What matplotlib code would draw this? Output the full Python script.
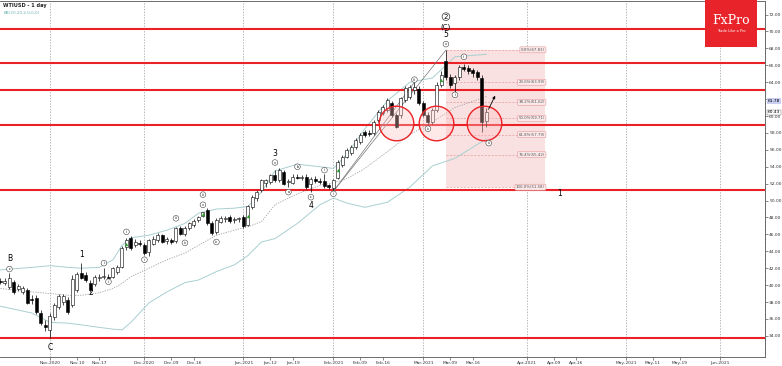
import numpy as np
import pandas as pd
import matplotlib
matplotlib.use("Agg")
import matplotlib.pyplot as plt
from matplotlib.patches import Rectangle

# daily calendar the broker uses: weekdays, no bars on Dec 25 / Jan 1
days = pd.bdate_range("2020-10-16", "2021-06-15")
days = days[~days.isin(pd.to_datetime(["2020-12-25", "2021-01-01"]))]
origin = days.get_loc(pd.Timestamp("2020-11-02"))

# candles (first bar = 2020-10-16)
opens = [40.5, 40.3, 39.8, 40.4, 39.6, 39.2, 39.4, 38.3, 38.5, 36.7, 35.3,
         34.7, 36.2, 37.4, 38.0, 38.2, 37.6, 39.4, 41.4, 41.2, 40.3, 40.1,
         40.8, 41.0, 41.0, 41.0, 41.5, 42.1, 44.5, 45.6, 44.8, 45.0, 44.7,
         43.9, 44.9, 45.3, 45.9, 45.2, 45.3, 45.2, 46.7, 46.0, 46.7, 47.1,
         47.7, 48.2, 48.9, 47.3, 46.3, 47.5, 47.8, 48.0, 47.7, 47.8, 48.0,
         47.1, 49.2, 50.3, 51.2, 52.1, 52.2, 53.0, 52.4, 53.4, 52.2, 52.1,
         52.8, 52.7, 52.8, 51.9, 52.5, 52.3, 52.3, 51.8, 51.5, 52.7, 54.2,
         55.2, 55.6, 56.3, 56.9, 58.1, 58.0, 58.0, 59.5, 60.4, 60.7, 61.5,
         60.1, 60.1, 61.9, 62.3, 63.1, 63.2, 61.5, 60.1, 59.3, 60.7, 63.7,
         66.5, 64.6, 63.9, 64.6, 65.8, 65.7, 65.4, 65.2, 64.5, 59.4]
highs = [40.9, 40.8, 41.4, 40.6, 40.1, 39.9, 39.7, 38.8, 38.8, 37.0, 35.9,
         36.7, 37.9, 39.0, 39.0, 38.6, 41.2, 41.6, 42.6, 41.5, 40.6, 41.2,
         41.3, 42.0, 41.3, 42.2, 42.4, 44.6, 45.6, 45.8, 45.4, 45.3, 45.0,
         45.4, 45.8, 46.2, 46.1, 45.7, 45.6, 46.9, 47.0, 47.0, 47.5, 47.8,
         48.2, 48.7, 49.1, 47.6, 47.9, 48.2, 48.2, 48.3, 48.0, 48.1, 48.3,
         49.5, 50.6, 51.2, 52.6, 52.6, 53.2, 53.6, 53.8, 53.6, 52.6, 53.1,
         53.2, 53.0, 53.1, 52.8, 52.9, 52.7, 53.2, 52.0, 52.5, 54.8, 55.4,
         56.2, 56.6, 57.4, 58.0, 58.4, 58.3, 59.5, 60.7, 61.3, 62.1, 61.8,
         60.4, 62.3, 63.5, 63.7, 64.0, 63.6, 61.8, 60.5, 61.0, 64.0, 65.3,
         67.8, 65.0, 64.8, 66.0, 66.2, 66.0, 65.7, 65.4, 64.8, 60.9]
lows = [40.1, 40.0, 39.6, 39.0, 39.3, 38.9, 37.8, 37.8, 36.6, 35.3, 34.6,
        33.7, 35.9, 37.2, 37.6, 36.6, 37.4, 39.2, 40.7, 40.4, 39.2, 39.9,
        40.5, 40.7, 40.4, 40.8, 41.3, 42.0, 44.2, 44.2, 44.5, 44.6, 43.6,
        43.5, 44.7, 45.1, 45.0, 44.9, 44.9, 45.0, 45.9, 45.8, 46.5, 46.9,
        47.5, 48.0, 47.1, 45.9, 46.0, 47.3, 47.5, 47.4, 47.4, 47.5, 46.8,
        47.0, 49.0, 50.0, 51.0, 51.6, 51.9, 52.2, 52.2, 51.8, 51.6, 51.9,
        52.5, 52.4, 51.4, 51.0, 52.1, 52.0, 51.5, 51.4, 51.1, 52.5, 54.0,
        55.0, 55.4, 56.1, 56.7, 57.5, 57.6, 57.8, 59.3, 60.1, 60.5, 59.9,
        58.6, 59.8, 61.7, 62.0, 62.6, 61.3, 59.9, 59.0, 59.0, 60.5, 63.4,
        64.3, 63.3, 62.4, 64.3, 65.3, 65.0, 64.6, 64.3, 58.1, 58.7]
closes = [40.4, 40.5, 40.8, 39.2, 39.9, 39.7, 37.9, 38.2, 36.8, 35.5, 35.0,
          36.4, 37.6, 38.7, 38.7, 36.8, 40.7, 41.3, 40.9, 40.6, 39.4, 41.0,
          41.0, 41.1, 40.8, 42.0, 42.2, 44.4, 45.3, 44.4, 45.1, 44.9, 43.8,
          45.3, 45.4, 45.9, 45.1, 45.4, 45.1, 46.7, 46.1, 46.8, 47.3, 47.6,
          48.0, 48.6, 47.3, 46.2, 47.7, 47.9, 47.9, 47.6, 47.8, 47.9, 47.0,
          49.3, 50.4, 51.0, 52.4, 52.4, 53.0, 52.4, 53.6, 51.9, 52.3, 52.8,
          52.7, 52.8, 51.6, 52.6, 52.3, 52.2, 51.7, 51.6, 52.4, 54.6, 55.2,
          56.0, 56.3, 57.2, 57.8, 57.7, 57.9, 59.3, 60.5, 61.1, 61.9, 60.1,
          58.7, 62.1, 63.3, 63.4, 63.4, 61.5, 60.1, 59.3, 60.7, 63.7, 64.9,
          64.6, 63.7, 64.6, 65.8, 65.6, 65.3, 65.1, 64.6, 59.3, 60.43]
green_bars = [17, 34, 44, 64, 87]  # bars carrying the green up-arrow

# Bollinger band (20, 2) read at a few bars
bb_bar = [-11, -4, 0, 4, 7, 11, 14, 16, 18, 22, 26, 30, 33, 37, 41, 44, 47,
          50, 55, 60, 63, 66, 70, 75, 80, 85, 90, 97]
bb_upper = [41.8, 42.1, 42.3, 42.1, 42.0, 42.1, 43.0, 44.7, 45.6, 45.9, 46.5,
            47.3, 48.5, 49.0, 49.1, 49.3, 51.0, 53.5, 54.3, 54.0, 53.8, 55.5,
            58.5, 61.8, 64.0, 64.5, 67.0, 67.3]
bb_mid = [39.6, 39.2, 39.0, 38.8, 38.8, 39.1, 39.6, 40.2, 41.0, 42.0, 43.0,
          43.8, 44.7, 45.9, 46.5, 46.9, 47.5, 49.5, 50.8, 51.8, 52.1, 52.6,
          53.8, 55.8, 57.8, 59.3, 61.0, 62.3]
bb_lower = [37.5, 36.7, 35.6, 35.5, 35.3, 35.0, 34.8, 34.7, 35.6, 37.9, 39.2,
            40.3, 40.6, 41.6, 42.4, 43.5, 45.1, 45.5, 47.3, 49.5, 50.3, 49.7,
            49.2, 49.8, 51.6, 54.1, 55.0, 57.3]

red_levels = [70.27, 66.22, 63.09, 58.95, 51.25, 33.73]
fib_pct = ["0.0%", "23.6%", "38.2%", "50.0%", "61.8%", "76.4%", "100.0%"]
fib_price = [67.83, 63.99, 61.62, 59.71, 57.79, 55.42, 51.58]

tick_dates = ["2020-11-02", "2020-11-10", "2020-11-17", "2020-12-01", "2020-12-09",
              "2020-12-16", "2021-01-04", "2021-01-12", "2021-01-19", "2021-02-01",
              "2021-02-09", "2021-02-16", "2021-03-01", "2021-03-09", "2021-03-16",
              "2021-04-01", "2021-04-09", "2021-04-16", "2021-05-03", "2021-05-11",
              "2021-05-19", "2021-06-01"]
tick_labels = ["Nov-2020", "Nov-10", "Nov-17", "Dec-2020", "Dec-09", "Dec-16",
               "Jan-2021", "Jan-12", "Jan-19", "Feb-2021", "Feb-09", "Feb-16",
               "Mar-2021", "Mar-09", "Mar-16", "Apr-2021", "Apr-09", "Apr-16",
               "May-2021", "May-11", "May-19", "Jun-2021"]

# wave labels: (bar, price, text)
plain_labels = [(-9, 43.1, "B"), (0, 32.6, "C"), (7, 43.6, "1"), (9, 39.1, "2"),
                (50, 55.6, "3"), (58, 49.4, "4"), (88, 69.6, "5"), (113.3, 50.8, "1")]
circle_labels = [(-9, 41.9, "c"), (12, 42.6, "i"), (13, 40.4, "ii"),
                 (17, 46.3, "i"), (21, 43.0, "ii"), (28, 47.9, "iii"), (30, 45.0, "iv"),
                 (34, 49.5, "v"), (34, 50.7, "iii"), (37, 45.1, "iv"), (50, 54.5, "v"),
                 (53, 51.0, "a"), (55, 54.0, "b"), (58, 50.4, "c"), (61, 53.6, "i"),
                 (63, 50.8, "ii"), (81, 64.3, "iii"), (84, 58.5, "iv"), (88, 68.5, "v"),
                 (90, 62.5, "i"), (92, 67.0, "ii"), (97.5, 56.8, "iii")]
circles = [(77, 59.2), (85.7, 59.2), (96.5, 59.2)]

n = len(closes)
x = np.arange(n) - 11
o = np.array(opens); c = np.array(closes)
up = c >= o

fig = plt.figure(figsize=(7.82, 3.66), dpi=100)
ax = fig.add_axes([0.0, 9 / 366, 765 / 782, 356 / 366])
ax.set_xlim(-11.1, 158.9)
ax.set_ylim(31.5, 73.6)

# month separators
for d in ["2020-11-02", "2020-12-01", "2021-01-04", "2021-02-01", "2021-03-01",
          "2021-04-01", "2021-05-03", "2021-06-01"]:
    ax.axvline(days.get_loc(pd.Timestamp(d)) - origin, color="#9a9a9a",
               lw=0.5, ls=(0, (2, 2)), zorder=0)

# fibonacci block
ax.add_patch(Rectangle((88, fib_price[-1]), 22, fib_price[0] - fib_price[-1],
                       fc="#f9e1e1", ec="none", zorder=0.5))
for p, lab in zip(fib_price, fib_pct):
    ax.plot([88, 104.5], [p, p], color="#e79a9a", lw=0.5, ls=(0, (3, 2)), zorder=1)
    ax.text(110, p, f"{lab}({p:.2f})", fontsize=2.8, ha="right", va="center",
            color="#555555", zorder=4,
            bbox=dict(boxstyle="round,pad=0.25", fc="#fbe9e9", ec="#e49a9a", lw=0.4))

for lv in red_levels:
    ax.axhline(lv, color="#ea2227", lw=1.5, zorder=2)

ax.plot(bb_bar, bb_upper, color="#a9cfd0", lw=0.7, zorder=1)
ax.plot(bb_bar, bb_lower, color="#a9cfd0", lw=0.7, zorder=1)
ax.plot(bb_bar, bb_mid, color="#a0a0a0", lw=0.6, ls=(0, (1.5, 1.5)), zorder=1)

# wave lines
ax.plot([63, 81], [51.1, 64.0], color="#777777", lw=0.5, zorder=2)
ax.plot([63, 88], [51.1, 67.8], color="#777777", lw=0.5, zorder=2)

# candles
ax.vlines(x, lows, highs, color="black", lw=0.5, zorder=3)
body_lo = np.minimum(o, c)
body_h = np.maximum(np.abs(c - o), 0.08)
ax.bar(x, body_h, bottom=body_lo, width=0.68, color=np.where(up, "white", "black"),
       edgecolor="black", lw=0.4, zorder=4)
gb = np.array(green_bars)
ax.scatter(gb, (o[gb + 11] + c[gb + 11]) / 2, marker="^", s=6, color="#2aa02a",
           lw=0, zorder=5)

for cx, cy in circles:
    ax.scatter(cx, cy, s=620, facecolor=(1, 0.75, 0.75, 0.35), edgecolor="#ea2227",
               lw=1.0, zorder=5)

ax.annotate("", xy=(99.2, 62.7), xytext=(97.2, 60.5),
            arrowprops=dict(arrowstyle="-|>", color="black", lw=0.6,
                            mutation_scale=4), zorder=6)

for bx, by, t in plain_labels:
    ax.text(bx, by, t, fontsize=5.5, ha="center", va="center", zorder=6)
ax.text(88, 70.55, "(C)", fontsize=5, ha="center", va="center", zorder=6)
ax.text(88, 71.75, "2", fontsize=5, ha="center", va="center", zorder=6,
        bbox=dict(boxstyle="circle,pad=0.12", fc="white", ec="#333333", lw=0.5))
for bx, by, t in circle_labels:
    ax.text(bx, by, t, fontsize=2.4, ha="center", va="center", zorder=6, clip_on=True,
            bbox=dict(boxstyle="circle,pad=0.25", fc="white", ec="#444444", lw=0.4))

# axes cosmetics
ax.yaxis.tick_right()
ax.set_yticks(np.arange(34, 73, 2))
ax.set_yticks(np.arange(32, 73.5, 0.5), minor=True)
ax.yaxis.set_major_formatter(plt.FormatStrFormatter("%.2f"))
ax.set_xticks([days.get_loc(pd.Timestamp(d)) - origin for d in tick_dates])
ax.set_xticklabels(tick_labels)
ax.tick_params(axis="both", labelsize=3.2, length=2, width=0.4, pad=1, colors="#333333")
ax.tick_params(axis="y", which="minor", length=1, width=0.3)
for s in ax.spines.values():
    s.set_linewidth(0.6)
    s.set_color("#555555")
ax.spines["left"].set_visible(False)

# current price markers on the scale
ax.text(1.004, 61.78, "61.78", transform=ax.get_yaxis_transform(), fontsize=3.2,
        va="center", ha="left", clip_on=False,
        bbox=dict(boxstyle="square,pad=0.15", fc="#c9cdf2", ec="none"))
ax.text(1.004, 60.43, "60.43", transform=ax.get_yaxis_transform(), fontsize=3.2,
        va="center", ha="left", clip_on=False,
        bbox=dict(boxstyle="square,pad=0.15", fc="white", ec="#666666", lw=0.3))

fig.text(3 / 782, 1 - 6 / 366, "WTIUSD - 1 day", fontsize=3.6, fontweight="bold",
         color="#222222", va="center")
fig.text(4 / 782, 1 - 13 / 366, "BB(20,20,2.0,0,0)", fontsize=3, color="#6fb3b3",
         va="center")

# FxPro badge
fig.patches.append(Rectangle((705 / 782, 1 - 47 / 366), 52 / 782, 47 / 366,
                             transform=fig.transFigure, fc="#e8242a", ec="none",
                             zorder=10))
fig.text(731 / 782, 1 - 21 / 366, "FxPro", fontsize=9, color="white",
         family="DejaVu Serif", ha="center", va="center", zorder=11)
fig.text(731 / 782, 1 - 31 / 366, "Trade Like a Pro", fontsize=2.6, color="white",
         ha="center", va="center", zorder=11)

fig.savefig("out.png", dpi=100)
